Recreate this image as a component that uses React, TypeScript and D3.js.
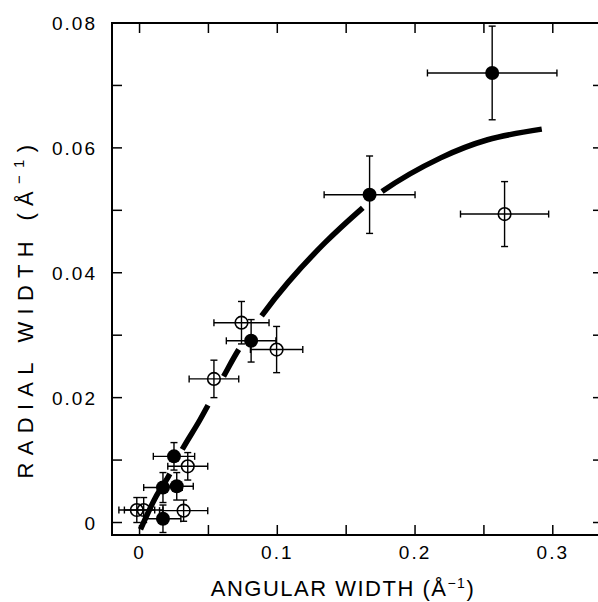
import React, { useEffect, useRef, useState } from "react";
import * as d3 from "d3";

// filled circles
const filledX = [0.256, 0.167, 0.081, 0.025, 0.017, 0.027, 0.017];
const filledY = [0.072, 0.0525, 0.0291, 0.0106, 0.0056, 0.0058, 0.0006];
const filledXErr = [0.047, 0.033, 0.018, 0.015, 0.014, 0.012, 0.013];
const filledYErr = [0.0075, 0.0062, 0.0034, 0.0022, 0.0024, 0.0022, 0.0022];

// open circles
const openX = [0.265, 0.074, 0.0995, 0.054, 0.035, -0.002, 0.003, 0.032];
const openY = [0.0494, 0.032, 0.0277, 0.023, 0.009, 0.002, 0.002, 0.0019];
const openXErr = [0.032, 0.02, 0.019, 0.018, 0.0145, 0.013, 0.014, 0.0175];
const openYErr = [0.0052, 0.0034, 0.0037, 0.003, 0.0022, 0.002, 0.002, 0.0017];

// dashed guide curve
const curveX = [0.0007, 0.0116, 0.021, 0.031, 0.044, 0.061, 0.072, 0.0886, 0.108, 0.135, 0.162, 0.176, 0.2186, 0.2527, 0.292];
const curveY = [-0.0011, 0.004, 0.0074, 0.0117, 0.0165, 0.0234, 0.0277, 0.0331, 0.0385, 0.0449, 0.0504, 0.053, 0.0584, 0.0613, 0.063];
// where each dash of the curve starts and stops (angular width)
const dashStart = [0.0007, 0.031, 0.061, 0.0886, 0.176];
const dashEnd = [0.022, 0.0497, 0.072, 0.162, 0.292];

const xTicks = [0, 0.05, 0.1, 0.15, 0.2, 0.25, 0.3];
const xLabels = ["0", "0.1", "0.2", "0.3"];
const xLabelVals = [0, 0.1, 0.2, 0.3];
const yTicks = [0, 0.01, 0.02, 0.03, 0.04, 0.05, 0.06, 0.07, 0.08];
const yLabels = ["0", "0.02", "0.04", "0.06", "0.08"];
const yLabelVals = [0, 0.02, 0.04, 0.06, 0.08];

const W = 598;
const H = 602;
const left = 112;
const right = 601;
const top = 23;
const bottom = 535;
const tickLen = 10;
const font = "Liberation Sans, Arial, sans-serif";

function ErrorPoint({ cx, cy, x0, x1, y0, y1, filled }) {
  const cap = 3.5;
  return (
    <g stroke="#000" strokeWidth={1.4}>
      <line x1={x0} x2={x1} y1={cy} y2={cy} />
      <line x1={x0} x2={x0} y1={cy - cap} y2={cy + cap} />
      <line x1={x1} x2={x1} y1={cy - cap} y2={cy + cap} />
      <line x1={cx} x2={cx} y1={y0} y2={y1} />
      <line x1={cx - cap} x2={cx + cap} y1={y0} y2={y0} />
      <line x1={cx - cap} x2={cx + cap} y1={y1} y2={y1} />
      {filled ? (
        <circle cx={cx} cy={cy} r={7} fill="#000" stroke="none" />
      ) : (
        <circle cx={cx} cy={cy} r={6.3} fill="none" strokeWidth={1.6} />
      )}
    </g>
  );
}

export default function App() {
  const x = d3.scaleLinear().domain([-0.02, 0.335]).range([left, right]);
  const y = d3.scaleLinear().domain([-0.002, 0.08]).range([bottom, top]);
  const pathRef = useRef<SVGPathElement>(null);
  const [dash, setDash] = useState("none");

  const line = d3
    .line<number>()
    .x(i => x(curveX[i]))
    .y(i => y(curveY[i]))
    .curve(d3.curveCatmullRom.alpha(0.5));

  // turn the dash limits (data x) into lengths along the drawn path
  useEffect(() => {
    const p = pathRef.current;
    if (!p) return;
    const total = p.getTotalLength();
    const lenAt = (px: number) => {
      let lo = 0;
      let hi = total;
      for (let k = 0; k < 40; k++) {
        const mid = (lo + hi) / 2;
        if (p.getPointAtLength(mid).x < px) lo = mid;
        else hi = mid;
      }
      return (lo + hi) / 2;
    };
    const parts: number[] = [];
    let pos = 0;
    dashStart.forEach((s, i) => {
      const a = lenAt(x(s));
      const b = lenAt(x(dashEnd[i]));
      parts.push(a - pos, b - a);
      pos = b;
    });
    parts.push(total);
    setDash([0, ...parts].join(" "));
  }, []);

  return (
    <svg
      width={W}
      height={H}
      style={{ position: "absolute", left: 0, top: 0, background: "#fff" }}
      fontFamily={font}
    >
      <rect width={W} height={H} fill="#fff" />

      {/* curve */}
      <path
        ref={pathRef}
        d={line(d3.range(curveX.length)) || ""}
        fill="none"
        stroke="#000"
        strokeWidth={5.5}
        strokeDasharray={dash}
      />

      {/* frame */}
      <path
        d={`M${right},${top}H${left}V${bottom}H${right}`}
        fill="none"
        stroke="#000"
        strokeWidth={2}
      />
      <line x1={right + 2} x2={right + 2} y1={top} y2={bottom} stroke="#000" strokeWidth={2} />

      {/* ticks */}
      {xTicks.map(t => (
        <g key={"xt" + t} stroke="#000" strokeWidth={1.5}>
          <line x1={x(t)} x2={x(t)} y1={bottom} y2={bottom - tickLen} />
          <line x1={x(t)} x2={x(t)} y1={top} y2={top + tickLen} />
        </g>
      ))}
      {yTicks.map(t => (
        <g key={"yt" + t} stroke="#000" strokeWidth={1.5}>
          <line x1={left} x2={left + tickLen} y1={y(t)} y2={y(t)} />
          <line x1={right + 2} x2={right + 2 - tickLen} y1={y(t)} y2={y(t)} />
        </g>
      ))}

      {/* tick labels */}
      {xLabels.map((s, i) => (
        <text
          key={"xl" + s}
          x={x(xLabelVals[i])}
          y={559}
          textAnchor="middle"
          fontSize={19}
          letterSpacing={2}
        >
          {s}
        </text>
      ))}
      {yLabels.map((s, i) => (
        <text
          key={"yl" + s}
          x={97}
          y={y(yLabelVals[i]) + 7}
          textAnchor="end"
          fontSize={19}
          letterSpacing={2}
        >
          {s}
        </text>
      ))}

      {/* axis titles */}
      <text x={343} y={596} textAnchor="middle" fontSize={22} letterSpacing={1.5}>
        ANGULAR WIDTH  (Å
        <tspan fontSize={14} dy={-8}>−1</tspan>
        <tspan dy={8}>)</tspan>
      </text>
      <text
        transform="translate(33,308) rotate(-90)"
        textAnchor="middle"
        fontSize={22}
        letterSpacing={7.3}
      >
        RADIAL WIDTH  (Å
        <tspan fontSize={15} dy={-9}>−1</tspan>
        <tspan dy={9}>)</tspan>
      </text>

      {/* data */}
      {openX.map((v, i) => (
        <ErrorPoint
          key={"o" + i}
          cx={x(v)}
          cy={y(openY[i])}
          x0={x(v - openXErr[i])}
          x1={x(v + openXErr[i])}
          y0={y(openY[i] + openYErr[i])}
          y1={y(openY[i] - openYErr[i])}
          filled={false}
        />
      ))}
      {filledX.map((v, i) => (
        <ErrorPoint
          key={"f" + i}
          cx={x(v)}
          cy={y(filledY[i])}
          x0={x(v - filledXErr[i])}
          x1={x(v + filledXErr[i])}
          y0={y(filledY[i] + filledYErr[i])}
          y1={y(filledY[i] - filledYErr[i])}
          filled={true}
        />
      ))}
    </svg>
  );
}
